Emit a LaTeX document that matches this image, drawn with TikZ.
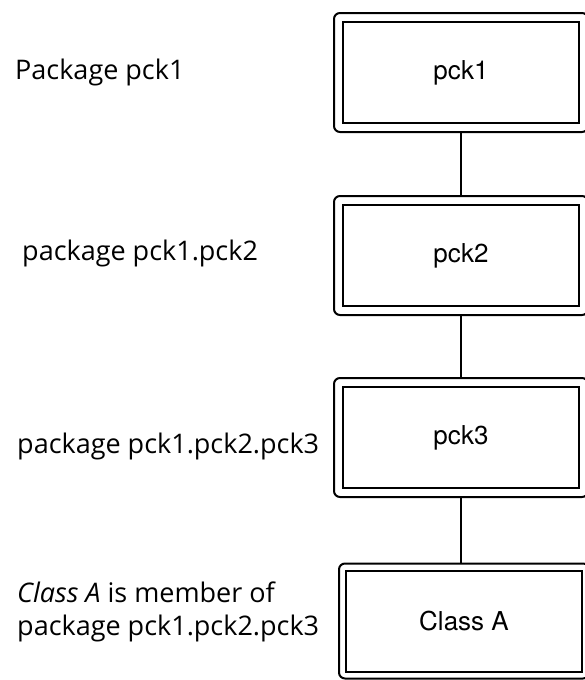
\documentclass[tikz,border=0pt]{standalone}
\usepackage{fontspec}
\setmainfont{Open Sans}
\newfontfamily\boxfont{TeX Gyre Heros}
\usetikzlibrary{positioning,fit}

\begin{document}
\begin{tikzpicture}[x=1pt,y=-1pt,
	main/.style={rectangle, draw=black, line width=2pt, minimum width=236pt, minimum height=101pt, font=\boxfont\fontsize{26}{30}\selectfont},
	outer/.style={rectangle, rounded corners=6pt, draw=black, line width=2pt, inner sep=8pt},
	lbl/.style={anchor=base west, font=\fontsize{27}{33}\selectfont, align=left, inner sep=0pt}
	]
	\useasboundingbox (0,0) rectangle (584,680);
	
	\node (pck1) [main] at (461,72.5) {pck1};
	\node (pck2) [main] at (461,255.5) {pck2};
	\node (pck3) [main] at (461,437.5) {pck3};
	\node (classa) [main] at (464,621) {Class A};
	
	\node (pck1o) [outer, fit=(pck1)] {};
	\node (pck2o) [outer, fit=(pck2)] {};
	\node (pck3o) [outer, fit=(pck3)] {};
	\node (classao) [outer, fit=(classa), inner sep=6pt] {};
	
	\node (pck1lbl) [lbl] at (15,79) {Package pck1};
	\node (pck2lbl) [lbl] at (22,260) {package pck1.pck2};
	\node (pck3lbl) [lbl] at (17,453) {package pck1.pck2.pck3};
	\node (classalbl) [lbl] at (17,635) {\textit{Class A} is member of\\package pck1.pck2.pck3};
	
	\draw [line width=1.6pt] (pck1o.south)--(pck2o.north);
	\draw [line width=1.6pt] (pck2o.south)--(pck3o.north);
	\draw [line width=1.6pt] (pck3o.south)--(pck3o.south |- classao.north);
\end{tikzpicture}
\end{document}
